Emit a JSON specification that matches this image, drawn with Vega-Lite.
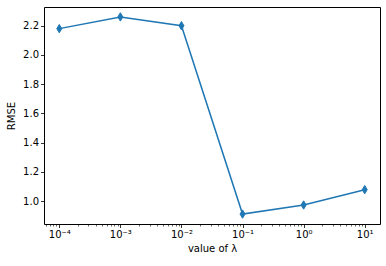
{
  "$schema": "https://vega.github.io/schema/vega-lite/v6.json",
  "width": 336,
  "height": 217,
  "autosize": {"type": "none"},
  "padding": {"left": 44, "top": 7, "right": 6, "bottom": 42},
  "background": "white",
  "config": {
    "font": "DejaVu Sans",
    "view": {"stroke": "#000", "strokeWidth": 1},
    "axis": {
      "grid": false,
      "domain": false,
      "tickColor": "#000",
      "tickSize": 3.5,
      "tickWidth": 0.8,
      "labelColor": "#000",
      "labelFontSize": 10,
      "labelFont": "DejaVu Sans",
      "labelPadding": 2,
      "labelOverlap": false,
      "titleFont": "DejaVu Sans",
      "titleFontSize": 10,
      "titleFontWeight": "normal",
      "titleColor": "#000"
    }
  },
  "data": {
    "values": [
      {"lambda": 0.0001, "rmse": 2.18},
      {"lambda": 0.001, "rmse": 2.26},
      {"lambda": 0.01, "rmse": 2.20},
      {"lambda": 0.1, "rmse": 0.911},
      {"lambda": 1, "rmse": 0.973},
      {"lambda": 10, "rmse": 1.078}
    ]
  },
  "layer": [
    {
      "mark": {"type": "line", "color": "#1f77b4", "strokeWidth": 1.5, "clip": true},
      "encoding": {
        "x": {
          "field": "lambda", "type": "quantitative",
          "scale": {"type": "log", "domain": [0.0000562341, 17.7827941], "nice": false},
          "axis": {
            "title": "value of λ",
            "titlePadding": 4,
            "values": [0.0001, 0.001, 0.01, 0.1, 1, 10],
            "labelExpr": "'10' + (round(log(datum.value)/LN10) < 0 ? '⁻' : '') + ['⁰','¹','²','³','⁴','⁵'][abs(round(log(datum.value)/LN10))]",
            "orient": "bottom"
          }
        },
        "y": {
          "field": "rmse", "type": "quantitative",
          "scale": {"domain": [0.843, 2.328], "nice": false, "zero": false},
          "axis": {
            "title": "RMSE",
            "titlePadding": 6,
            "values": [1.0, 1.2, 1.4, 1.6, 1.8, 2.0, 2.2],
            "format": ".1f",
            "labelOverlap": false
          }
        }
      }
    },
    {
      "mark": {"type": "point", "filled": true, "color": "#1f77b4", "stroke": "#1f77b4", "strokeWidth": 1, "opacity": 1, "size": 70, "shape": "M0,-1L0.6,0L0,1L-0.6,0Z"},
      "encoding": {
        "x": {
          "field": "lambda", "type": "quantitative",
          "axis": {
            "orient": "bottom",
            "title": null,
            "labels": false,
            "tickSize": 2,
            "tickWidth": 0.6,
            "values": [0.00006, 0.00007, 0.00008, 0.00009, 0.0002, 0.0003, 0.0004, 0.0005, 0.0006, 0.0007, 0.0008, 0.0009, 0.002, 0.003, 0.004, 0.005, 0.006, 0.007, 0.008, 0.009, 0.02, 0.03, 0.04, 0.05, 0.06, 0.07, 0.08, 0.09, 0.2, 0.3, 0.4, 0.5, 0.6, 0.7, 0.8, 0.9, 2, 3, 4, 5, 6, 7, 8, 9]
          }
        },
        "y": {
          "field": "rmse", "type": "quantitative",
          "axis": {
            "title": "RMSE",
            "titlePadding": 6,
            "values": [1.0, 1.2, 1.4, 1.6, 1.8, 2.0, 2.2],
            "format": ".1f",
            "labelOverlap": false
          }
        }
      }
    }
  ],
  "resolve": {"axis": {"x": "independent"}}
}
